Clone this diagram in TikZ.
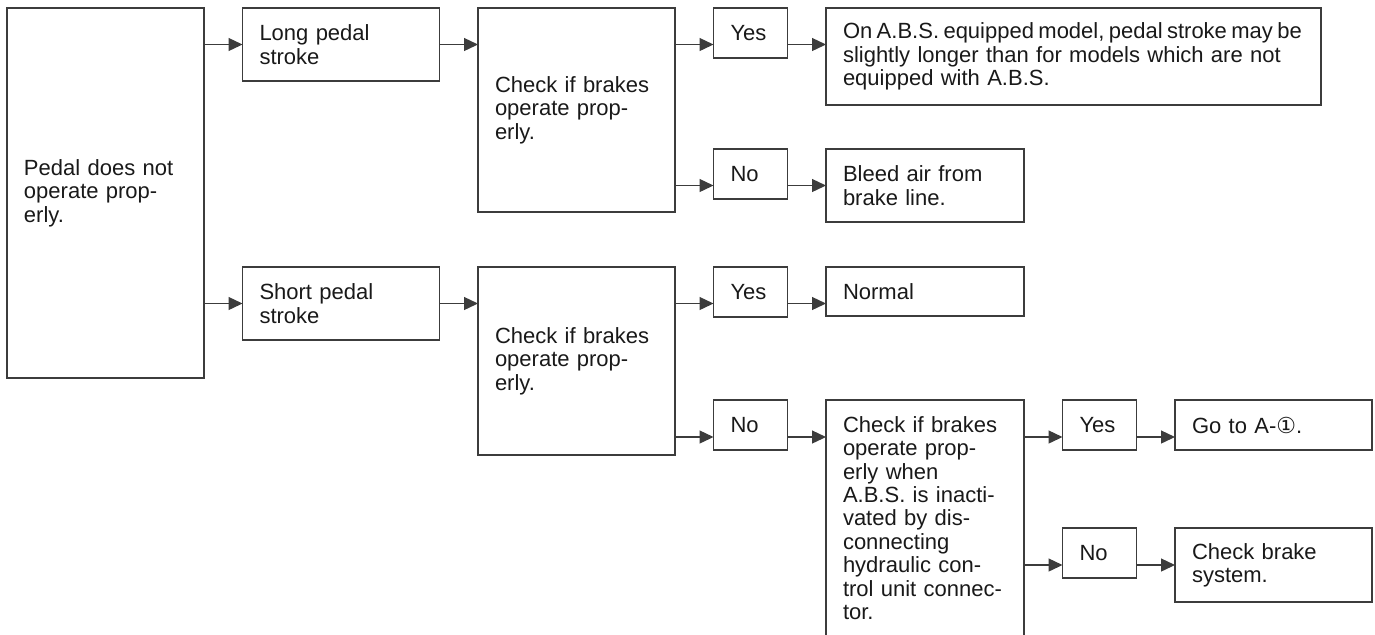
\documentclass[tikz,border=0pt]{standalone}
\usepackage{fontspec}
\setmainfont{Liberation Sans}
\newfontfamily\circfont{DejaVu Sans}
\usetikzlibrary{arrows.meta}
\definecolor{boxline}{HTML}{3C3C3C}
\tikzset{
  box/.style={draw=boxline, line width=0.65pt, anchor=north west, align=left, outer sep=0pt, inner xsep=8.5pt, inner ysep=2pt, font=\fontsize{11pt}{11.7pt}\selectfont, text=black!90},
  arr/.style={draw=boxline, line width=0.65pt, -{Triangle[length=7pt,width=6.5pt]}}
}
\begin{document}
\begin{tikzpicture}[x=0.5pt, y=-0.5pt]
    \useasboundingbox (0,0) rectangle (1375,634);
    \clip (0,0) rectangle (1375,634);

    \node[box, text width=81.5pt, minimum height=185pt] (main) at (7,8) {Pedal does not\\operate prop-\\erly.};
    \node[box, text width=81.5pt, minimum height=36.5pt] at ([xshift=19.25pt]main.north east)(long){Long pedal\\stroke};
    \node[box, text width=81.5pt, minimum height=36.5pt] at ([yshift=-129.5pt]long.north west)(short){Short pedal\\stroke};

    \node[box, text width=81.5pt, minimum height=102pt] at ([xshift=19.25pt]long.north east)(chka){Check if brakes\\operate prop-\\erly.};
    \node[box, text width=81.5pt, minimum height=94pt] at ([xshift=19.25pt]short.north east)(chkb){Check if brakes\\operate prop-\\erly.};

    \node[box, text width=20pt, minimum height=25pt] at ([xshift=19.25pt]chka.north east)(yesa){Yes};
    \node[box, text width=20pt, minimum height=25pt] at ([yshift=-70.5pt]yesa.north west)(noa){No};
    \node[box, text width=230.5pt, minimum height=48.5pt] at ([xshift=19.25pt]yesa.north east)(longer){{\spaceskip=2.2pt\mbox{On A.B.S. equipped model, pedal stroke may be}}\\slightly longer than for models which are not\\equipped with A.B.S.};
    \node[box, text width=82pt, minimum height=36.5pt] at ([xshift=19.25pt]noa.north east)(bleed){Bleed air from\\brake line.};

    \node[box, text width=20pt, minimum height=25pt] at ([xshift=19.25pt]chkb.north east)(yesb){Yes};
    \node[box, text width=82pt, minimum height=24.5pt] at ([xshift=19.25pt]yesb.north east)(normal){Normal};
    \node[box, text width=20pt, minimum height=25pt] at ([yshift=-66.5pt]yesb.north west)(nob){No};
    \node[box, text width=82pt, minimum height=118pt] at ([xshift=19.25pt]nob.north east)(chkc){Check if brakes\\operate prop-\\erly when\\A.B.S. is inacti-\\vated by dis-\\connecting\\hydraulic con-\\trol unit connec-\\tor.};

    \node[box, text width=20pt, minimum height=25pt] at ([xshift=19.25pt]chkc.north east)(yesc){Yes};
    \node[box, text width=81.5pt, minimum height=25pt] at ([xshift=19.25pt]yesc.north east)(goto){Go to A-{\circfont\fontsize{11pt}{11pt}\selectfont ①}.};
    \node[box, text width=20pt, minimum height=25pt] at ([yshift=-64pt]yesc.north west)(noc){No};
    \node[box, text width=81.5pt, minimum height=37pt] at ([xshift=19.25pt]noc.north east)(brake){Check brake\\system.};

    \coordinate (rowd) at ([yshift=-6pt]nob.west);

    \draw[arr](main.east |- long.west) -- (long.west);
    \draw[arr](long.east) -- (chka.west |- long.east);
    \draw[arr](chka.east |- long.east) -- (yesa.west |- long.east);
    \draw[arr](yesa.east |- long.east) -- (longer.west |- long.east);
    \draw[arr](chka.east |- bleed.west) -- (noa.west |- bleed.west);
    \draw[arr](noa.east |- bleed.west) -- (bleed.west);

    \draw[arr](main.east |- short.west) -- (short.west);
    \draw[arr](short.east) -- (chkb.west |- short.east);
    \draw[arr](chkb.east |- short.east) -- (yesb.west |- short.east);
    \draw[arr](yesb.east |- short.east) -- (normal.west |- short.east);
    \draw[arr](chkb.east |- rowd) -- (rowd);
    \draw[arr](nob.east |- rowd) -- (chkc.west |- rowd);

    \draw[arr](chkc.east |- rowd) -- (yesc.west |- rowd);
    \draw[arr](yesc.east |- rowd) -- (goto.west |- rowd);
    \draw[arr](chkc.east |- brake.west) -- (noc.west |- brake.west);
    \draw[arr](noc.east |- brake.west) -- (brake.west);
\end{tikzpicture}
\end{document}
